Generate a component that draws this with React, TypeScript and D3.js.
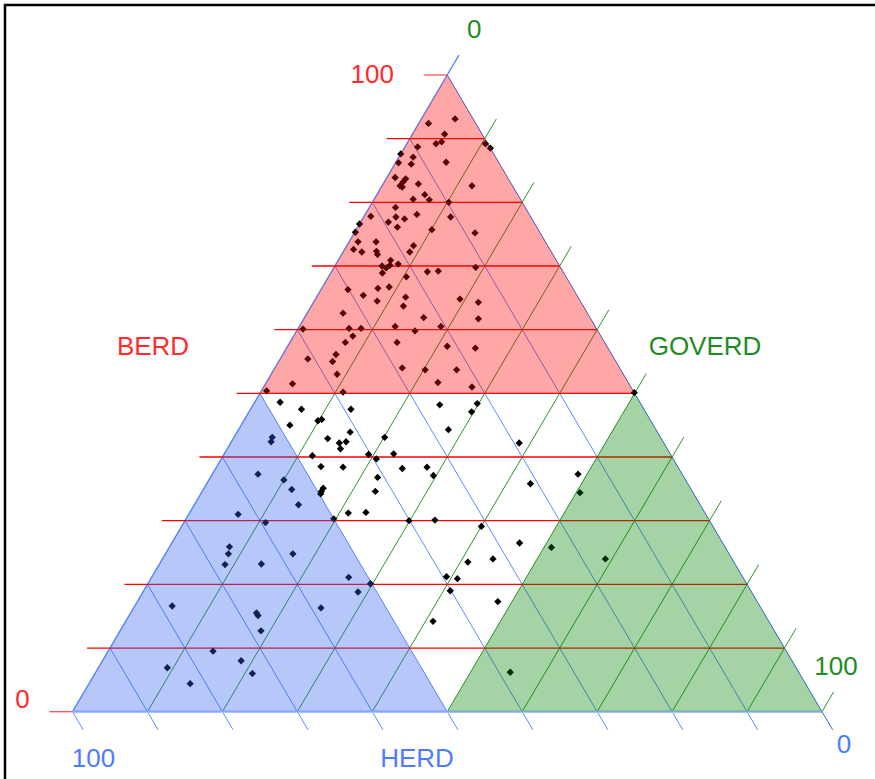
import React from 'react';
import * as d3 from 'd3';

// Ternary data: each point has BERD, GOVERD, HERD shares (sum 100)
const berd = [
  92.4, 93.1, 90.7, 89.5, 89.2, 88.7, 89.2, 88.5, 87.6, 87.1, 86.2, 86.0, 86.3, 83.9, 83.7, 83.2, 82.6, 82.4, 82.9, 82.6,
  81.2, 80.5, 80.4, 80.0, 79.2, 77.8, 77.7, 77.4, 78.1, 76.9, 76.6, 76.1, 77.7, 75.3, 75.7, 75.2, 73.8, 73.8, 72.6, 72.2,
  72.3, 71.8, 73.2, 72.2, 70.9, 70.3, 70.0, 69.7, 70.1, 68.9, 68.3, 69.1, 69.2, 69.8, 66.3, 66.5, 66.7, 65.4, 65.1, 64.5,
  63.7, 64.8, 64.3, 62.6, 61.9, 61.7, 60.1, 60.2, 60.2, 60.5, 59.8, 60.5, 59.0, 58.0, 58.0, 57.4, 57.1, 56.1, 55.4, 55.0,
  54.0, 53.7, 53.7, 53.0, 51.5, 51.7, 51.0, 50.4, 50.2, 50.1, 48.6, 47.5, 47.5, 48.2, 45.0, 45.7, 45.9, 43.9, 44.3, 42.9,
  42.2, 42.4, 41.3, 43.1, 40.2, 40.4, 39.7, 40.5, 38.5, 38.4, 38.2, 38.4, 37.1, 36.8, 35.1, 34.6, 34.2, 34.6, 31.2, 31.3,
  30.3, 30.0, 30.1, 48.4, 47.1, 42.2, 37.3, 35.8, 34.4, 29.1, 26.5, 25.8, 24.0, 23.5, 24.0, 21.1, 20.1, 21.2, 20.9, 19.0,
  18.8, 17.3, 16.3, 14.2, 6.2, 43.1, 42.4, 37.3, 36.4, 34.9, 32.5, 31.0, 29.7, 25.9, 24.8, 23.1, 23.2, 24.8, 16.6, 15.5,
  15.1, 12.7, 9.5, 6.9, 8.0, 6.0, 4.4,
];
const goverd = [
  1.3, 4.5, 4.3, 4.5, 3.9, 1.7, 10.5, 11.5, 0.0, 1.9, 0.4, 2.2, 6.7, 1.1, 2.6, 2.5, 2.4, 2.8, 4.7, 12.0,
  6.4, 5.2, 7.4, 10.2, 3.5, 0.9, 4.3, 5.6, 6.9, 3.7, 0.0, 5.3, 11.6, 0.1, 10.1, 16.1, 1.2, 3.6, 1.2, 2.5,
  4.4, 4.8, 8.9, 8.9, 7.0, 8.3, 6.3, 7.0, 7.3, 6.9, 10.4, 12.8, 14.2, 18.9, 3.6, 7.5, 8.9, 6.1, 11.9, 8.4,
  12.3, 19.3, 22.0, 4.8, 15.9, 23.3, 0.7, 6.8, 8.4, 12.8, 15.8, 18.9, 7.9, 7.4, 14.3, 21.3, 25.2, 7.1, 3.7, 7.2,
  17.0, 20.2, 24.4, 8.8, 3.6, 22.9, 27.8, 0.7, 11.0, 49.9, 3.4, 6.8, 13.4, 24.9, 6.5, 9.9, 10.3, 15.1, 28.0, 12.6,
  14.5, 15.3, 15.1, 20.1, 11.9, 19.3, 20.7, 22.6, 13.9, 16.9, 24.9, 28.1, 29.6, 22.3, 15.9, 15.9, 16.0, 23.1, 21.2, 23.5,
  19.7, 29.9, 33.3, 29.8, 29.7, 38.5, 48.8, 43.2, 50.5, 40.0, 46.4, 51.0, 59.1, 41.0, 44.1, 26.3, 29.7, 39.3, 40.9, 40.9,
  28.7, 48.1, 25.0, 41.0, 55.3, 5.1, 5.3, 6.1, 10.0, 11.8, 13.9, 6.6, 10.9, 8.0, 8.4, 8.8, 13.6, 17.0, 5.0, 16.8,
  17.2, 18.8, 14.0, 9.2, 18.5, 21.0, 13.5,
];
const herd = berd.map((b, i) => +(100 - b - goverd[i]).toFixed(1));

const gridValues = d3.range(0, 101, 10);
const tickLabels = ['0', '100'];
const axisTitles = ['BERD', 'HERD', 'GOVERD'];

const RED = '#ff0000';
const BLUE_LINE = '#5b8cff';
const GREEN_LINE = '#2a962a';
const RED_TEXT = '#ff2a2a';
const BLUE_TEXT = '#4f7cff';
const GREEN_TEXT = '#1f8c1f';
const FONT = '"Liberation Sans", Arial, sans-serif';

export default function App() {
  const width = 875;
  const height = 779;
  const xS = d3.scaleLinear().domain([0, 100]).range([72.5, 822]);
  const yS = d3.scaleLinear().domain([0, 100]).range([711.7, 75]);
  // position from BERD (b) and GOVERD (g)
  const proj = (b: number, g: number): [number, number] => [xS(g + b / 2), yS(b)];

  const top = proj(100, 0);
  const bl = proj(0, 0);
  const br = proj(0, 100);
  const upLen = Math.hypot(top[0] - bl[0], top[1] - bl[1]);
  const upDir = [(top[0] - bl[0]) / upLen, (top[1] - bl[1]) / upLen]; // along left edge, upward
  const downDir = [(br[0] - top[0]) / upLen, (br[1] - top[1]) / upLen]; // along right edge, downward
  const tick = 23;

  const line = d3.line<[number, number]>();

  // red horizontal grid (BERD)
  const redLines = gridValues.map((k) => {
    const l = proj(k, 0);
    const r = proj(k, 100 - k);
    const start: [number, number] = [l[0] - tick, l[1]];
    const end: [number, number] = k === 0 || k === 100 ? l : r;
    return { k, d: line([start, end]) };
  });
  // blue grid (HERD = k): parallel to right edge
  const blueLines = gridValues.map((k) => {
    const b0 = proj(0, 100 - k);
    const e = proj(100 - k, 0);
    const ext: [number, number] = [b0[0] + downDir[0] * (tick - 2), b0[1] + downDir[1] * (tick - 2)];
    return { k, d: line([ext, e]) };
  });
  // green grid (GOVERD = k): parallel to left edge
  const greenLines = gridValues.map((k) => {
    const r0 = proj(100 - k, k);
    const e = proj(0, k);
    const ext: [number, number] = [r0[0] + upDir[0] * tick, r0[1] + upDir[1] * tick];
    return { k, d: line([ext, e]) };
  });

  const redFill = line([proj(100, 0), proj(50, 0), proj(50, 50)]) + 'Z';
  const blueFill = line([proj(0, 0), proj(0, 50), proj(50, 0)]) + 'Z';
  const greenFill = line([proj(0, 100), proj(0, 50), proj(50, 50)]) + 'Z';

  const sym = d3.symbol().type(d3.symbolDiamond2).size(34)();

  const textStyle = { fontFamily: FONT, fontSize: 26 } as const;

  return (
    <svg
      width={width}
      height={height}
      style={{ position: 'absolute', left: 0, top: 0, background: '#fff' }}
    >
      <rect x={0} y={0} width={width} height={height} fill="#fff" />
      <rect x={5} y={5} width={1200} height={1200} fill="none" stroke="#000" strokeWidth={2.5} />

      {/* grid */}
      <g fill="none">
        {blueLines.map((l) => (
          <path key={'b' + l.k} d={l.d || ''} stroke={l.k === 0 ? '#2f63d6' : BLUE_LINE} strokeWidth={1} />
        ))}
        {greenLines.map((l) => (
          <path key={'g' + l.k} d={l.d || ''} stroke={l.k === 0 ? '#5b8cff' : GREEN_LINE} strokeWidth={l.k === 0 ? 1.4 : 1} />
        ))}
        {redLines.map((l) => (
          <path key={'r' + l.k} d={l.d || ''} stroke={l.k === 0 || l.k === 100 ? '#ff5050' : RED} strokeWidth={1.3} />
        ))}
        <path d={line([bl, br]) || ''} stroke="#a9c0ff" strokeWidth={2.5} />
      </g>

      {/* points */}
      <g>
        {berd.map((b, i) => {
          const [x, y] = proj(b, goverd[i]);
          return <path key={i} d={sym || ''} transform={`translate(${x},${y})`} fill="#000" data-herd={herd[i]} />;
        })}
      </g>

      {/* translucent regions on top */}
      <path d={redFill} fill="rgb(255,0,0)" fillOpacity={0.35} />
      <path d={blueFill} fill="rgb(49,95,240)" fillOpacity={0.35} />
      <path d={greenFill} fill="rgb(0,128,0)" fillOpacity={0.35} />

      {/* tick labels */}
      <text x={top[0] - 75} y={83} textAnchor="middle" fill={RED_TEXT} style={textStyle}>{tickLabels[1]}</text>
      <text x={bl[0] - 50} y={708} textAnchor="middle" fill={RED_TEXT} style={textStyle}>{tickLabels[0]}</text>
      <text x={bl[0] + 21} y={767} textAnchor="middle" fill={BLUE_TEXT} style={textStyle}>{tickLabels[1]}</text>
      <text x={br[0] + 22} y={753} textAnchor="middle" fill={BLUE_TEXT} style={textStyle}>{tickLabels[0]}</text>
      <text x={top[0] + 27} y={38} textAnchor="middle" fill={GREEN_TEXT} style={textStyle}>{tickLabels[0]}</text>
      <text x={br[0] + 14} y={675} textAnchor="middle" fill={GREEN_TEXT} style={textStyle}>{tickLabels[1]}</text>

      {/* axis titles */}
      <text x={153} y={355} textAnchor="middle" fill={RED_TEXT} style={textStyle}>{axisTitles[0]}</text>
      <text x={417} y={767} textAnchor="middle" fill={BLUE_TEXT} style={textStyle}>{axisTitles[1]}</text>
      <text x={705} y={355} textAnchor="middle" fill={GREEN_TEXT} style={textStyle}>{axisTitles[2]}</text>
    </svg>
  );
}
